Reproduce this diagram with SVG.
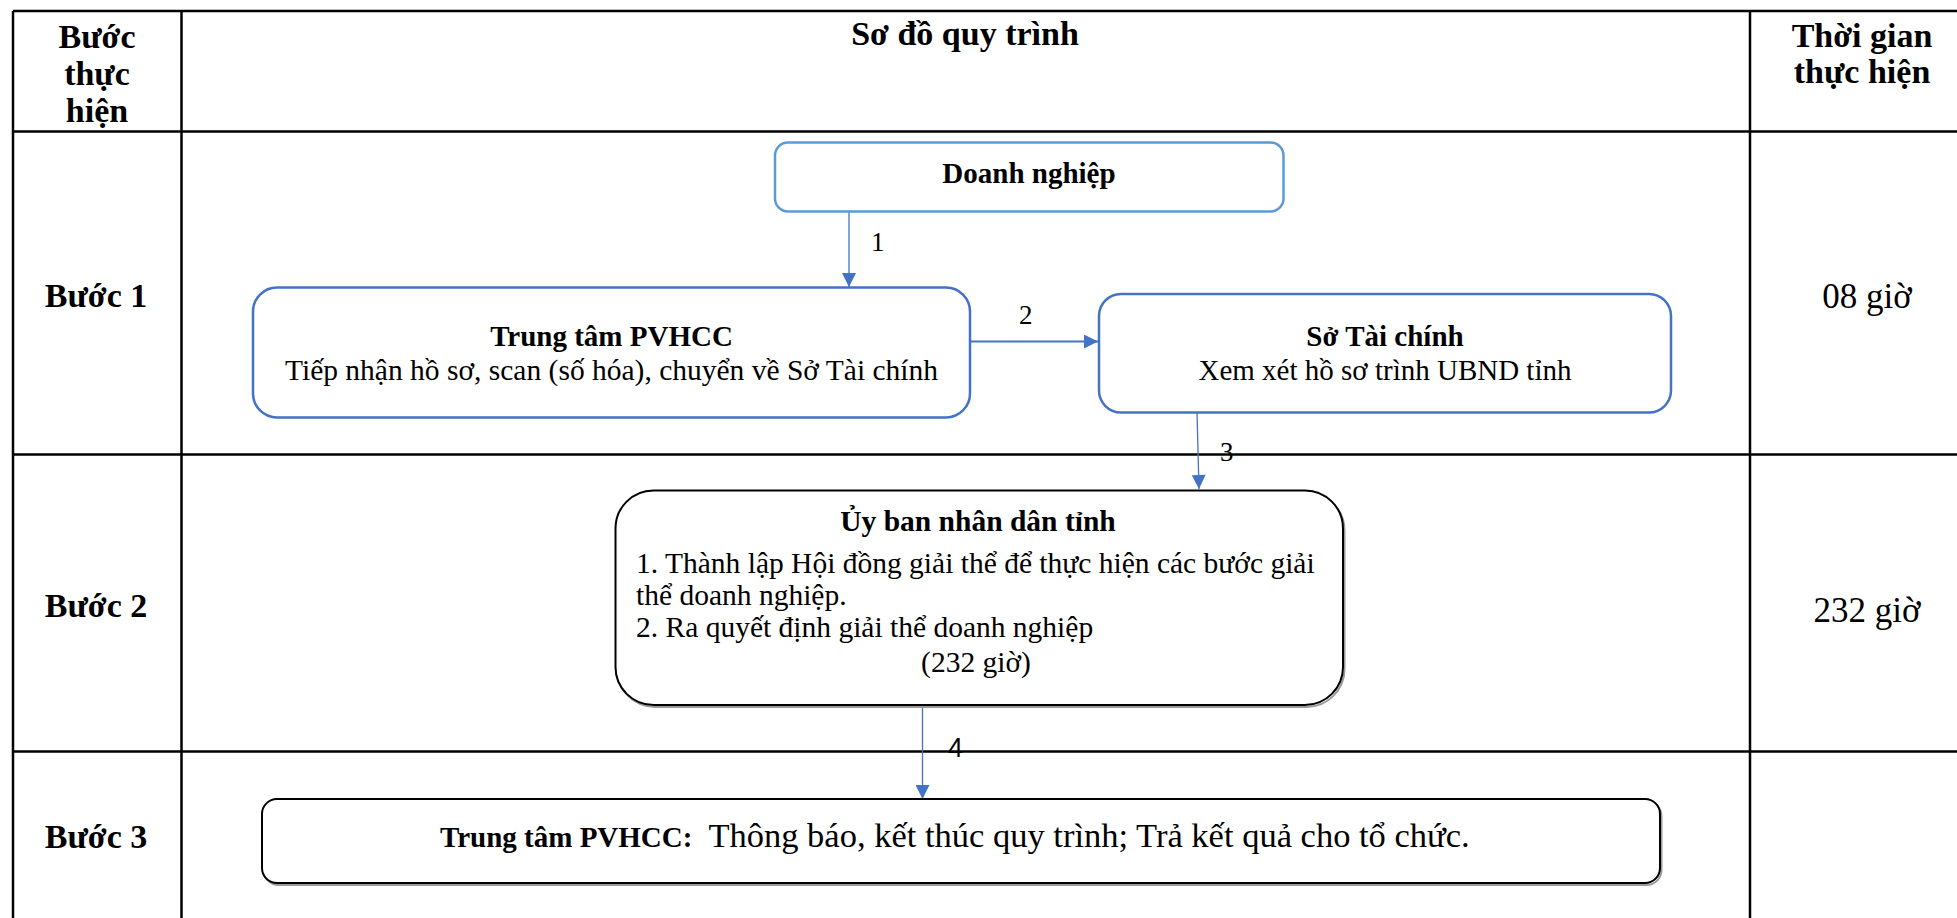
<svg xmlns="http://www.w3.org/2000/svg" width="1957" height="918" viewBox="0 0 1957 918">
<style>
  text { font-family: "Liberation Serif", "Times New Roman", serif; fill: #000; }
  .hd { font-weight: bold; font-size: 34px; text-anchor: middle; }
  .step { font-weight: bold; font-size: 34px; text-anchor: middle; }
  .time { font-size: 35px; text-anchor: middle; }
  .b { font-weight: bold; font-size: 29px; }
  .r { font-size: 29px; }
  .c { text-anchor: middle; }
  .lbl { font-size: 27px; }
  .grid { stroke: #000; stroke-width: 2.5; fill: none; }
  .blue { fill: #fff; stroke: #4472C4; stroke-width: 2.5; }
  .lblue { fill: #fff; stroke: #5B9BD5; stroke-width: 2.5; }
  .blk { fill: #fff; stroke: #000; stroke-width: 2; }
  .shadow { fill: none; stroke: #9a9a9a; stroke-width: 2; }
  .conn { stroke: #4472C4; stroke-width: 1.3; fill: none; }
</style>
<defs>
  <marker id="ah" viewBox="0 0 10 10" refX="10" refY="5" markerUnits="userSpaceOnUse" markerWidth="15" markerHeight="14" orient="auto">
    <path d="M0,0 L10,5 L0,10 z" fill="#4472C4"/>
  </marker>
</defs>
<rect width="1957" height="918" fill="#fff"/>
<g id="table">
  <line class="grid" x1="13" y1="11" x2="1957" y2="11"/>
  <line class="grid" x1="13" y1="131.5" x2="1957" y2="131.5"/>
  <line class="grid" x1="13" y1="454.5" x2="1957" y2="454.5"/>
  <line class="grid" x1="13" y1="751.5" x2="1957" y2="751.5"/>
  <line class="grid" x1="13" y1="11" x2="13" y2="918"/>
  <line class="grid" x1="181.5" y1="11" x2="181.5" y2="918"/>
  <line class="grid" x1="1750" y1="11" x2="1750" y2="918"/>
  <text class="hd" x="97" y="48">Bước</text>
  <text class="hd" x="97" y="85">thực</text>
  <text class="hd" x="97" y="122">hiện</text>
  <text class="hd" x="965" y="45">Sơ đồ quy trình</text>
  <text class="hd" x="1862" y="46.5">Thời gian</text>
  <text class="hd" x="1862" y="83">thực hiện</text>
  <text class="step" x="96" y="307">Bước 1</text>
  <text class="step" x="96" y="617">Bước 2</text>
  <text class="step" x="96" y="848">Bước 3</text>
  <text class="time" x="1867" y="308">08 giờ</text>
  <text class="time" x="1867" y="622">232 giờ</text>
</g>
<g id="connectors">
  <line class="conn" x1="849" y1="211" x2="849" y2="287" marker-end="url(#ah)"/>
  <text class="r lbl" x="871" y="251">1</text>
  <line class="conn" style="stroke-width:2.2" x1="970" y1="341.5" x2="1098" y2="341.5" marker-end="url(#ah)"/>
  <text class="r lbl" x="1019" y="324">2</text>
  <line class="conn" x1="1197" y1="412" x2="1199" y2="489" marker-end="url(#ah)"/>
  <text class="r lbl" x="1220" y="461">3</text>
  <line class="conn" x1="922.5" y1="705" x2="922.5" y2="799" marker-end="url(#ah)"/>
  <text class="lbl" style="font-family:'Liberation Sans',Arial,sans-serif" x="948" y="757">4</text>
</g>
<g id="n-doanhnghiep">
  <rect class="lblue" x="775" y="142.5" width="508.5" height="69" rx="13"/>
  <text class="b c" style="font-size:29px" x="1029" y="182.5">Doanh nghiệp</text>
</g>
<g id="n-pvhcc">
  <rect class="blue" x="253" y="287.5" width="717" height="130" rx="24"/>
  <text class="b c" x="611.5" y="346">Trung tâm PVHCC</text>
  <text class="r c" style="font-size:29.5px" x="611.5" y="380">Tiếp nhận hồ sơ, scan (số hóa), chuyển về Sở Tài chính</text>
</g>
<g id="n-sotaichinh">
  <rect class="blue" x="1099" y="294" width="572" height="118.5" rx="22"/>
  <text class="b c" x="1385" y="346">Sở Tài chính</text>
  <text class="r c" x="1385" y="380">Xem xét hồ sơ trình UBND tỉnh</text>
</g>
<g id="n-ubnd">
  <rect class="shadow" x="617" y="492.5" width="727.5" height="214.5" rx="38"/>
  <rect class="blk" x="615.5" y="490.5" width="727.5" height="214.5" rx="38"/>
  <text class="b c" style="font-size:29.5px" x="978" y="530.5">Ủy ban nhân dân tỉnh</text>
  <text class="r" style="font-size:29.5px" x="636" y="572.5">1. Thành lập Hội đồng giải thể để thực hiện các bước giải</text>
  <text class="r" style="font-size:29.5px" x="636" y="605">thể doanh nghiệp.</text>
  <text class="r" style="font-size:29.5px" x="636" y="637">2. Ra quyết định giải thể doanh nghiệp</text>
  <text class="r c" style="font-size:29.5px" x="976" y="671.5">(232 giờ)</text>
</g>
<g id="n-ketthuc">
  <rect class="shadow" x="263.5" y="801" width="1398" height="84" rx="15"/>
  <rect class="blk" x="262" y="799" width="1398" height="84" rx="15"/>
  <text x="440" y="847"><tspan class="b">Trung tâm PVHCC:</tspan><tspan dx="16" style="font-size:34.5px">Thông báo, kết thúc quy trình; Trả kết quả cho tổ chức.</tspan></text>
</g>
</svg>
